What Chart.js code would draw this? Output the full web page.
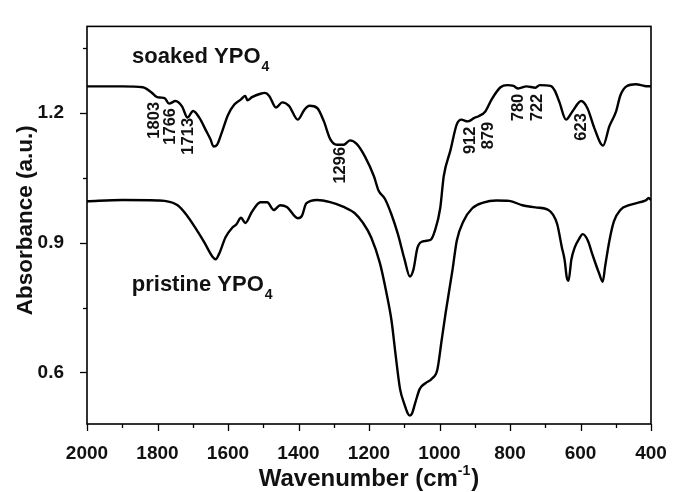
<!DOCTYPE html>
<html><head><meta charset="utf-8">
<script src="https://cdn.jsdelivr.net/npm/chart.js@4/dist/chart.umd.min.js"></script>
<style>html,body{margin:0;padding:0;background:#fff;}#wrap{width:682px;height:492px;position:relative;}</style>
</head><body><div id="wrap"><canvas id="c"></canvas></div>
<script>
// ---- data ----
const soakedWavenumber = [2000,1900,1842,1817,1803,1790,1780,1767,1749,1730,1715,1699,1681,1662,1650,1641,1631,1619,1600,1582,1563,1551,1545,1532,1508,1495,1483,1464,1446,1427,1402,1384,1369,1347,1328,1310,1291,1272,1254,1235,1211,1186,1173,1155,1136,1118,1099,1084,1074,1062,1043,1025,1013,998,988,969,951,938,920,901,889,870,852,827,808,790,777,753,728,716,685,673,660,641,623,598,580,561,536,518,499,487,468,443,418,400];
const soakedAbsorbance = [1.262,1.262,1.26,1.248,1.238,1.236,1.235,1.222,1.228,1.215,1.19,1.205,1.189,1.159,1.14,1.123,1.127,1.152,1.196,1.22,1.232,1.24,1.23,1.237,1.245,1.247,1.24,1.213,1.225,1.217,1.185,1.207,1.217,1.212,1.181,1.14,1.127,1.127,1.137,1.129,1.099,1.054,1.021,1.002,0.965,0.92,0.861,0.822,0.838,0.89,0.904,0.907,0.928,0.98,1.054,1.114,1.174,1.185,1.181,1.189,1.193,1.204,1.232,1.26,1.265,1.263,1.257,1.262,1.259,1.265,1.263,1.252,1.226,1.185,1.204,1.228,1.211,1.166,1.125,1.17,1.204,1.241,1.263,1.267,1.263,1.262];
const pristineWavenumber = [2000,1900,1800,1780,1743,1718,1693,1668,1644,1635,1625,1607,1588,1576,1563,1551,1532,1508,1489,1470,1452,1433,1402,1390,1378,1347,1310,1272,1241,1217,1194,1169,1151,1136,1124,1112,1099,1090,1084,1078,1068,1056,1040,1021,1006,994,982,963,951,932,907,876,839,802,765,728,691,678,666,653,645,639,634,626,616,604,594,579,567,548,537,530,518,505,487,462,431,413,407,400];
const pristineAbsorbance = [0.996,0.999,0.998,0.997,0.987,0.965,0.935,0.902,0.868,0.862,0.875,0.913,0.935,0.943,0.958,0.946,0.972,0.994,0.994,0.976,0.987,0.983,0.957,0.963,0.991,0.999,0.994,0.983,0.969,0.946,0.913,0.853,0.786,0.719,0.637,0.562,0.525,0.505,0.50,0.505,0.532,0.562,0.575,0.586,0.607,0.674,0.741,0.838,0.905,0.95,0.98,0.993,0.998,0.997,0.987,0.982,0.976,0.965,0.943,0.89,0.86,0.82,0.812,0.861,0.89,0.909,0.92,0.905,0.875,0.831,0.81,0.846,0.905,0.95,0.976,0.987,0.994,0.999,1.004,0.999];

const seriesNames = ['soaked YPO', 'pristine YPO'];
const seriesSubscript = '4';
const xTickValues = [400,500,600,700,800,900,1000,1100,1200,1300,1400,1500,1600,1700,1800,1900,2000];
const xTickLabels = ['400','','600','','800','','1000','','1200','','1400','','1600','','1800','','2000'];
const yTickValues = [0.6,0.75,0.9,1.05,1.2,1.35];
const yTickLabels = ['0.6','','0.9','','1.2',''];
const peakLabels = ['1803','1766','1713','1296','912','879','780','722','623'];
// anchor of each peak label (top end of the rotated text), in data units
const peakLabelX = [1810,1763,1711,1280,911,860,777,723,596];
const peakLabelY = [1.226,1.212,1.189,1.122,1.169,1.180,1.245,1.245,1.200];
const seriesLabelX = [1872,1873];
const seriesLabelY = [1.316,0.788];
const yTitle = 'Absorbance (a.u.)';

const FONT = '"Liberation Sans", Arial, sans-serif';

function toPoints(xs, ys){ return xs.map((v,i)=>({x:v,y:ys[i]})); }

const decor = {
  id:'decor',
  afterDraw(chart){
    const {ctx, chartArea:a, scales:{x,y}} = chart;
    ctx.save();
    ctx.strokeStyle = '#000';
    ctx.lineWidth = 1.6;
    ctx.strokeRect(a.left, a.top, a.right-a.left, a.bottom-a.top);
    ctx.lineWidth = 1.3;
    xTickValues.forEach((v,i)=>{
      const px = Math.round(x.getPixelForValue(v))+0.5;
      const len = xTickLabels[i] ? 7 : 4;
      ctx.beginPath(); ctx.moveTo(px, a.bottom); ctx.lineTo(px, a.bottom+len); ctx.stroke();
    });
    yTickValues.forEach((v,i)=>{
      const py = Math.round(y.getPixelForValue(v))+0.5;
      const len = yTickLabels[i] ? 7 : 4;
      ctx.beginPath(); ctx.moveTo(a.left, py); ctx.lineTo(a.left-len, py); ctx.stroke();
    });
    // series labels with subscript
    ctx.fillStyle = '#111';
    ctx.textBaseline = 'alphabetic';
    ctx.textAlign = 'left';
    seriesNames.forEach((name,i)=>{
      const px = x.getPixelForValue(seriesLabelX[i]);
      const py = y.getPixelForValue(seriesLabelY[i]);
      ctx.font = 'bold 22px ' + FONT;
      ctx.fillText(name, px, py);
      const w = ctx.measureText(name).width;
      ctx.font = 'bold 14px ' + FONT;
      ctx.fillText(seriesSubscript, px + w + 1, py + 8);
    });
    // peak labels, rotated
    ctx.font = 'bold 16.5px ' + FONT;
    ctx.textAlign = 'right';
    ctx.textBaseline = 'middle';
    peakLabels.forEach((t,i)=>{
      const px = x.getPixelForValue(peakLabelX[i]);
      const py = y.getPixelForValue(peakLabelY[i]);
      ctx.save();
      ctx.translate(px, py);
      ctx.rotate(-Math.PI/2);
      ctx.fillText(t, 0, 0);
      ctx.restore();
    });
    // y-axis title
    ctx.save();
    ctx.font = 'bold 22.5px ' + FONT;
    ctx.textAlign = 'center';
    ctx.textBaseline = 'middle';
    ctx.translate(25.5, (a.top + a.bottom)/2 - 5);
    ctx.rotate(-Math.PI/2);
    ctx.fillText(yTitle, 0, 0);
    ctx.restore();
    // x-axis title with superscript
    ctx.textAlign = 'left';
    ctx.textBaseline = 'alphabetic';
    const main = 'Wavenumber (cm';
    ctx.font = 'bold 24px ' + FONT;
    const w1 = ctx.measureText(main).width;
    ctx.font = 'bold 14px ' + FONT;
    const w2 = ctx.measureText('-1').width;
    ctx.font = 'bold 24px ' + FONT;
    const w3 = ctx.measureText(')').width;
    const total = w1 + w2 + w3 + 1;
    const cx = (a.left + a.right)/2;
    const sx = cx - total/2;
    const base = 486;
    ctx.fillText(main, sx, base);
    ctx.font = 'bold 14px ' + FONT;
    ctx.fillText('-1', sx + w1, base - 11);
    ctx.font = 'bold 24px ' + FONT;
    ctx.fillText(')', sx + w1 + w2 + 1, base);
    ctx.restore();
  }
};

new Chart(document.getElementById('c'), {
  type:'line',
  data:{
    datasets:[
      {label:'soaked YPO4', data:toPoints(soakedWavenumber, soakedAbsorbance), borderColor:'#000', borderWidth:2.4, pointRadius:0, fill:false, cubicInterpolationMode:'monotone'},
      {label:'pristine YPO4', data:toPoints(pristineWavenumber, pristineAbsorbance), borderColor:'#000', borderWidth:2.4, pointRadius:0, fill:false, cubicInterpolationMode:'monotone'}
    ]
  },
  options:{
    responsive:true, maintainAspectRatio:false, animation:false, devicePixelRatio:1,
    layout:{padding:{left:0, top:13, right:31, bottom:0}},
    plugins:{legend:{display:false}, tooltip:{enabled:false}},
    scales:{
      x:{
        type:'linear', reverse:true, min:400, max:2000,
        afterBuildTicks(s){ s.ticks = xTickValues.map(v=>({value:v})); },
        afterFit(s){ s.height = 68; },
        grid:{display:false}, border:{display:false},
        ticks:{autoSkip:false, maxRotation:0, padding:10, color:'#111', font:{family:FONT, size:19, weight:'bold'},
          callback(v){ const i = xTickValues.indexOf(v); return i>=0 ? xTickLabels[i] : ''; }},
        title:{display:false}
      },
      y:{
        type:'linear', min:0.4807, max:1.4008,
        afterBuildTicks(s){ s.ticks = yTickValues.map(v=>({value:v})); },
        afterFit(s){ s.width = 87; },
        grid:{display:false}, border:{display:false},
        ticks:{autoSkip:false, padding:15, color:'#111', font:{family:FONT, size:19, weight:'bold'},
          callback(v){ const i = yTickValues.findIndex(t=>Math.abs(t-v)<1e-6); return i>=0 ? yTickLabels[i] : ''; }},
        title:{display:false}
      }
    }
  },
  plugins:[decor]
});
</script>
</body></html>
